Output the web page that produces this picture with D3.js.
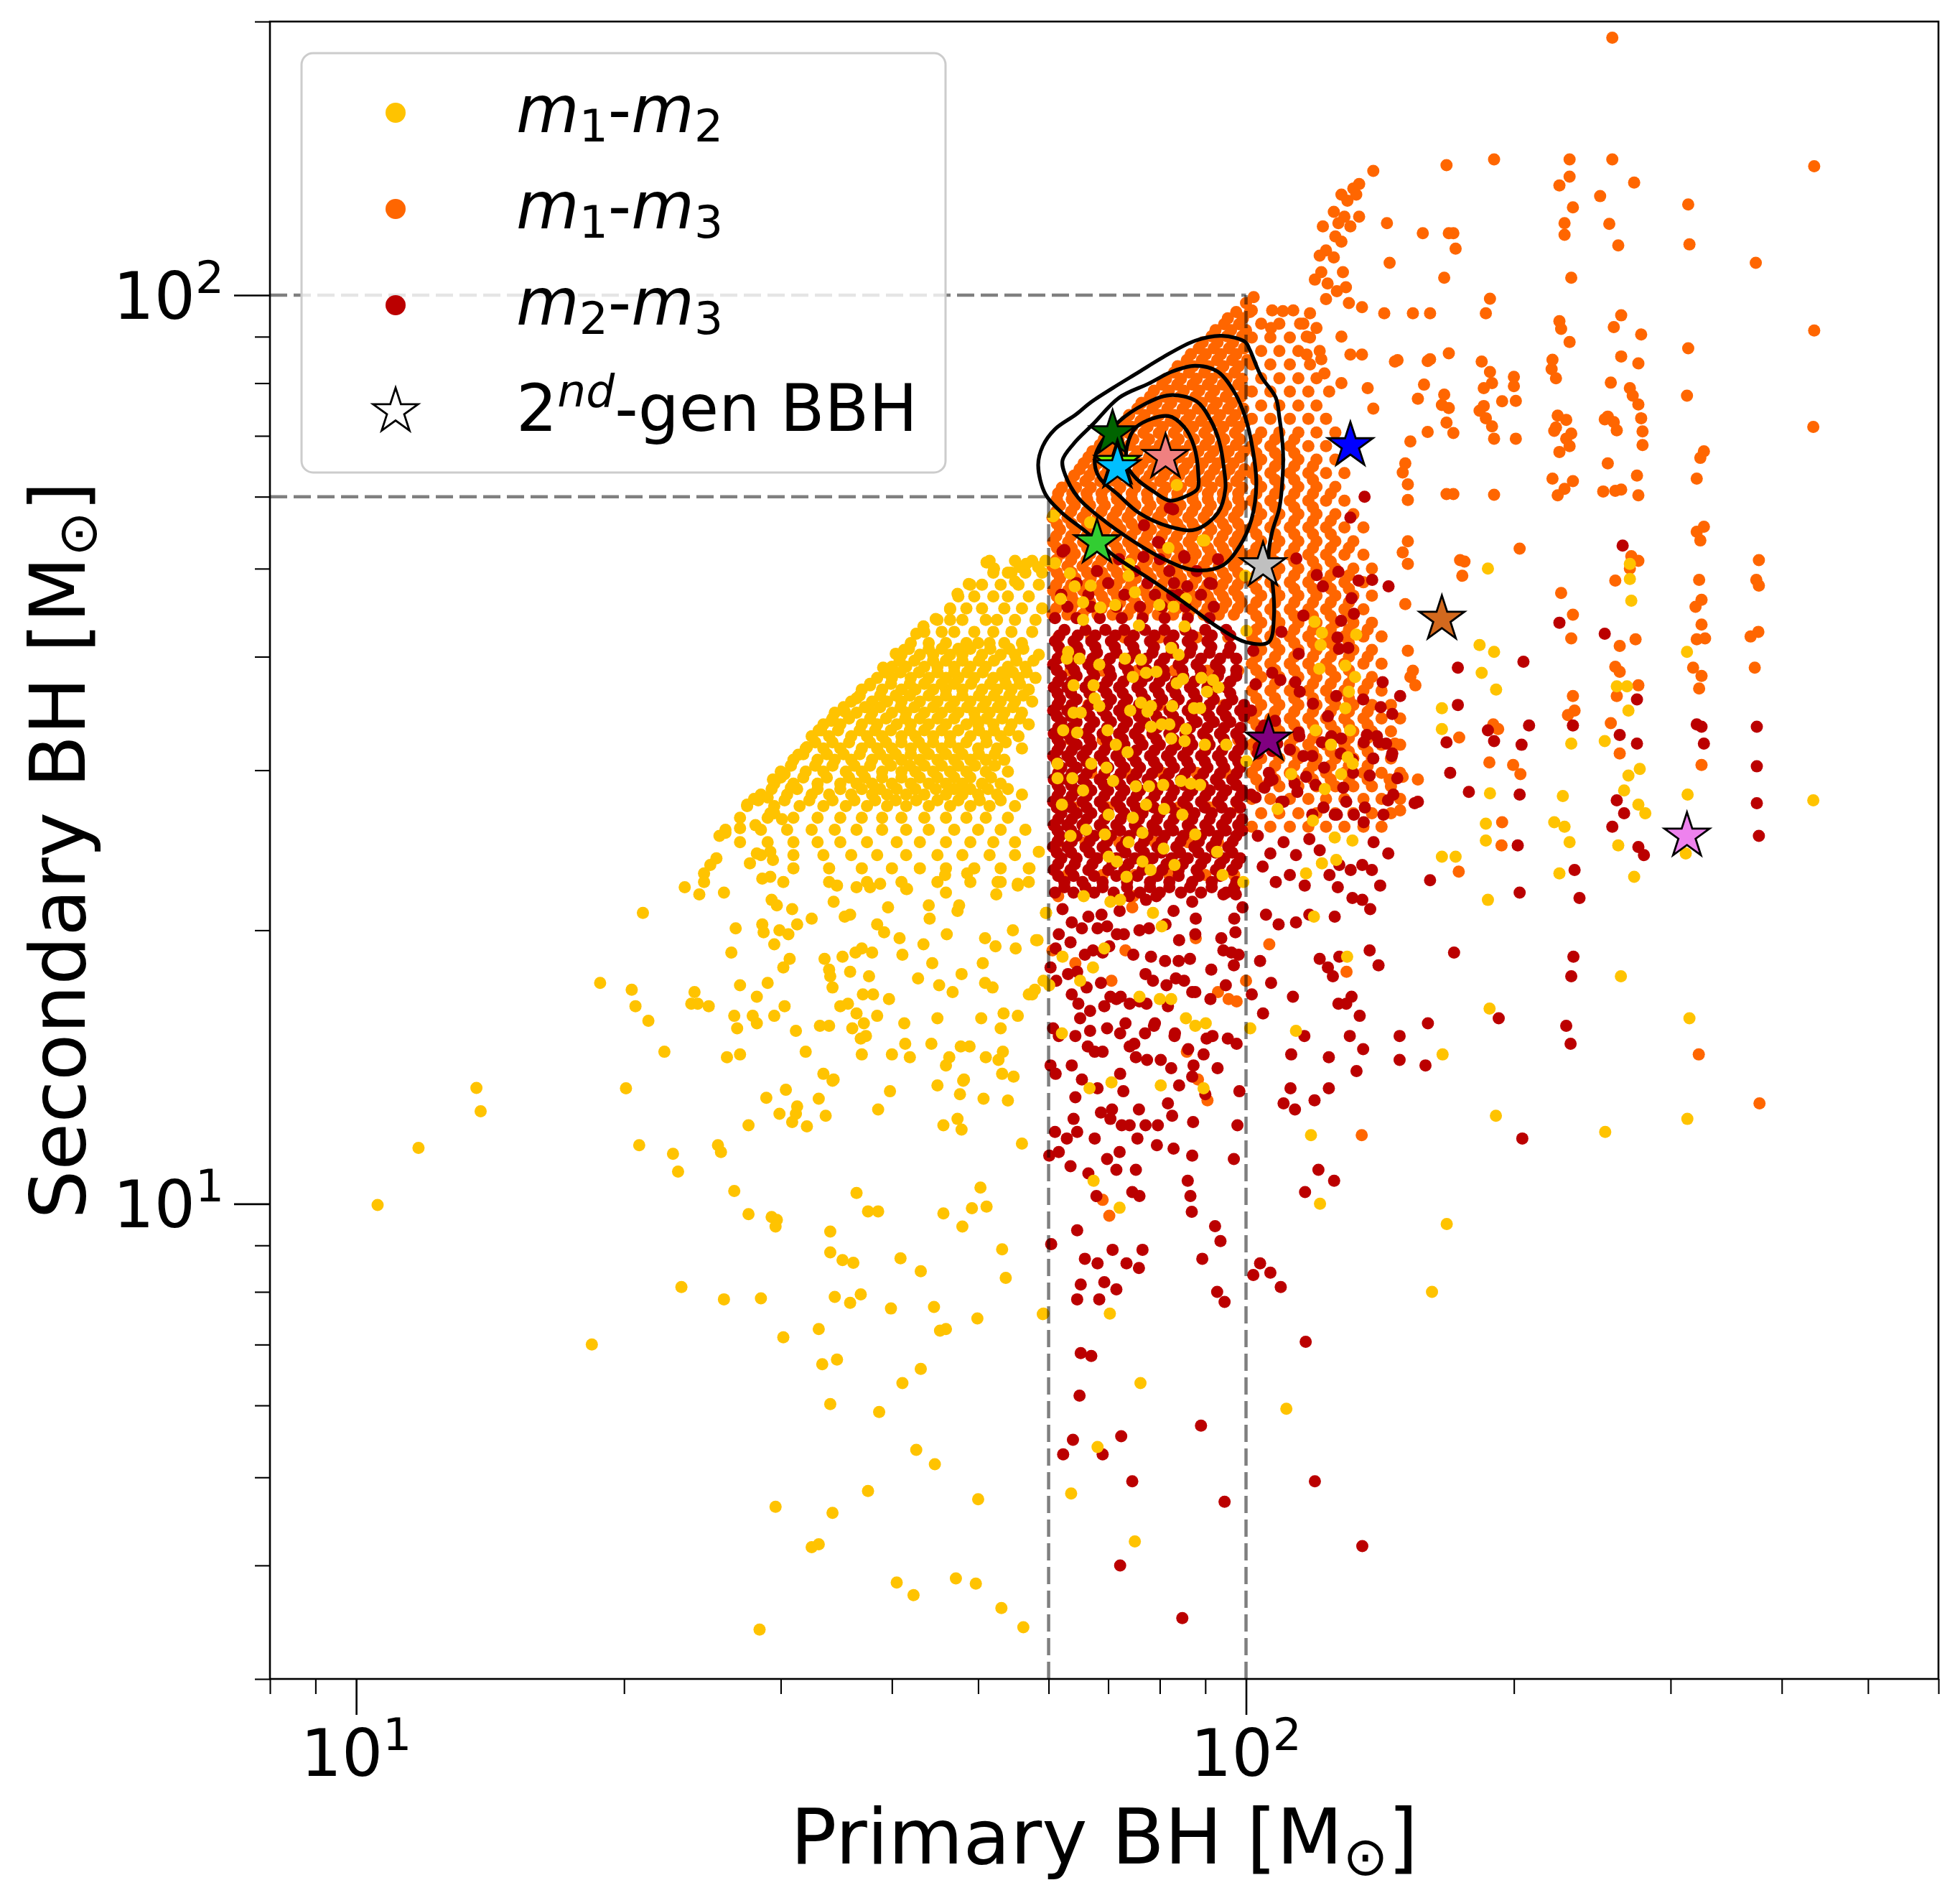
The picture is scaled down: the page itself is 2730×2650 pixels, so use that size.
<!DOCTYPE html>
<html><head><meta charset="utf-8">
<script src="https://cdn.jsdelivr.net/npm/d3@7"></script>
<style>body{margin:0;background:#fff}text{font-family:"DejaVu Sans",sans-serif}</style>
</head><body>
<svg id="chart" width="2730" height="2650"></svg>
<script>
// ---------- axes ----------
const xDomain = [8, 600];
const yDomain = [3, 200];
const xMajorTicks = [10, 100];
const xMinorTicks = [8, 9, 20, 30, 40, 50, 60, 70, 80, 90, 200, 300, 400, 500, 600];
const yMajorTicks = [10, 100];
const yMinorTicks = [3, 4, 5, 6, 7, 8, 9, 20, 30, 40, 50, 60, 70, 80, 90, 200];
const tickBase = {10: "10", 100: "10"};
const tickExp = {10: "1", 100: "2"};
const xLabel = "Primary BH [M";
const yLabel = "Secondary BH [M";
const labelSub = "\u2299";
const seriesColors = ["#ffc300", "#ff6600", "#bb0000"];

// mass-gap guide lines [x1,y1,x2,y2] in Msun
const guideLines = [[8,100,100,100],[100,3,100,100],[8,60,60,60],[60,3,60,60]];

// ---------- m1-m2 (yellow) ----------
// dense cloud rows: [m2, m1, m1, ...]
const m12CloudRows = [
[51,51.5,55,57.5,59.5],
[49.5,52,54.5,56.5,59],
[48,49,50.5,53,55.5,58.5],
[46.6,47.5,49.5,52,54,57],
[45.2,46.5,48.5,50.5,53.5,56,59],
[43.9,45,46.5,48,51,52.5,55,58],
[42.6,43.5,45.5,47,49.5,52,54.5,57.5],
[41.4,42,44,46,48.5,50,51.5,53.5,56],
[40.2,41,43,44.5,46.5,48,50.5,53,55,58.5],
[39,40,41.5,43.5,45,47,49,51,54,56.5],
[37.9,38.5,40,42,44,46,47.5,49.5,52,53.5,55.5,58],
[36.8,37,39,41,42.5,44.5,46,48,50.5,52.5,54.5,57],
[35.7,36,38,39.5,41,43,45,47,49,51,53,55,57.5],
[34.7,34.5,36.5,38,40,41.5,43.5,45.5,47.5,49.5,51.5,53.5,56],
[33.7,33.5,35,37,38.5,40.5,42,44,46,48.5,50,52,54.5,57],
[32.7,32.5,34,36,37.5,39,41,42.5,44.5,46.5,49,51,53,55.5],
[31.7,32,33.5,35,37,38.5,40,42,43.5,45.5,47.5,50,52.5,56],
[30.8,31,33,34.5,36,38,39.5,41,43,45,47,49,51,53.5],
[29.9,30,32,33.5,35.5,37,39,41,42.5,44.5,46.5,48.5,51,54],
[29,29.5,31,33,35,36.5,38,40,42,44,46,48,50.5,53],
[28.2,28.5,30.5,32.5,34,36,38,39.5,41.5,43.5,46,48,50,52.5,56],
[27.4,27.5,29.5,31.5,33.5,35.5,37.5,39.5,41.5,44,46.5,49,51.5,55],
[26.6,27,29,31,33,35,37,39,41,43.5,46,48.5,51,54],
[25.8,26,28.5,30.5,32.5,34.5,36.5,39,41.5,44,47,50,53,56.5],
[25,27,29,31,33,35,37.5,40.5,43,46,49,52,55],
[24.2,28.5,31,33.5,36,38.5,41.5,45,48,51.5,55],
[23.4,31,34,37,40,43,46,49.5,53,57],
[22.6,34,37.5,41,45,49,53,57]
];
const m12MidRows = [
[27.8,28.3,30.3,32.3,34.3,36.3,38.3,40.4,42.6,45,47.5,50.2,53],
[28.6,29.3,31.3,33,35,37,38.8,40.5,42.5,44.8,47,49,51.3,54],
[29.45,30,31.8,33.8,35.8,37.3,39,41,43,45,47,49,51.7],
[30.35,30.8,32.8,34.3,36.3,37.8,39.9,41.9,43.5,45.5,47.5,49.6,52.2],
[31.25,31.8,33.8,35.3,36.8,38.8,40.4,42,44,46,48,50.1,52.2],
[32.2,32.8,34.3,35.8,37.8,39.4,41,42.9,44.5,46.5,48.5,51.1,53.7],
[33.2,33.3,34.8,36.8,38.3,39.9,41.9,43.5,45.5,47.5,50.1,52.1,54.2],
[34.2,34.3,35.8,37.8,39.4,41.4,43,45,47,49.6,51.1,53.2,55.7],
[35.2,35.3,37.3,38.8,40.9,42.4,44.5,46.5,48.6,50.6,52.6,54.7],
[36.25,36.8,38.8,40.4,41.9,44,46,48,50.1,52.1,54.2,56.2],
[37.35,37.8,39.9,41.9,43.5,45.5,47,49.1,51.6,53.7,55.7],
[38.45,39.3,40.9,42.9,45,47,48.6,50.6,53.2,54.7,56.7],
[39.6,40.8,42.4,44.5,46,48,50.1,52.1,55.2,57.7],
[40.8,41.8,44,45.5,47.5,49,51.6,54.2,56.2]
];
const m12Points = [
[13.65,13.41],[13.8,12.64],[20.1,13.4],[11.75,11.52],[10.57,9.97],[20.8,11.6],[22.7,11.35],[23.0,10.85],[25.5,11.6],[25.7,11.4],[27.6,12.2],[28.9,13.08],[30.4,13.35],[29.9,12.56],[31.3,12.8],[31.2,12.56],[30.9,12.3],[32.1,12.17],[33.1,13.05],[33.7,12.5],[34.3,13.66],[38.6,12.7],[39.8,13.3],[45.0,13.5],[47.7,13.2],[48.1,13.66],[50.7,13.05],[54.0,12.99],[47.4,12.4],[45.7,12.2],[47.9,12.07],[56.0,11.65],[26.6,10.33],[27.6,9.74],[29.3,9.67],[29.7,9.6],[29.6,9.44],[36.5,10.28],[37.6,9.81],[38.6,9.81],[34.1,9.32],[34.1,8.84],[35.2,8.67],[36.2,8.61],[40.9,8.71],[43.1,8.43],[45.7,9.76],[49.2,9.89],[51.1,9.93],[50.3,10.42],[48.0,9.44],[53.2,8.91],[53.7,8.29],[59.1,7.56],[23.2,8.10],[25.9,7.85],[28.5,7.87],[34.5,7.90],[35.9,7.78],[36.9,7.95],[39.9,7.67],[44.6,7.70],[49.9,7.48],[45.3,7.25],[46.0,7.28],[33.1,7.28],[30.2,7.13],[18.4,7.00],[33.4,6.66],[34.7,6.74],[43.1,6.58],[41.1,6.35],[34.1,6.02],[38.7,5.90],[42.6,5.36],[44.7,5.17],[37.6,4.83],[50.0,4.73],[29.6,4.64],[34.3,4.57],[32.5,4.19],[33.1,4.22],[40.5,3.83],[42.3,3.71],[47.2,3.87],[49.7,3.82],[53.1,3.59],[56.2,3.42],[28.4,3.40],
[23.4,22.3],[24.3,21.9],[25.9,22.0],[21.0,20.9],[29.3,21.6],[29.7,21.3],[30.9,21.1],[32.5,20.6],[31.3,20.3],[26.7,20.1],[28.6,20.3],[28.7,19.9],[29.9,20.0],[30.6,19.8],[29.5,19.3],[26.4,18.9],[30.7,18.6],[30.2,18.2],[34.4,21.5],[35.4,20.7],[35.9,20.8],[39.6,21.2],[41.6,22.2],[44.0,21.3],[44.1,20.6],[46.0,22.0],[47.6,21.3],[47.4,21.0],[52.4,21.9],[52.6,22.6],[55.4,22.4],
[33.6,18.6],[35.2,18.7],[34.0,18.1],[34.1,17.8],[34.3,17.3],[35.9,18.0],[36.4,18.9],[37.0,19.1],[38.0,18.9],[37.1,17.0],[38.1,17.0],[39.7,16.8],[37.7,17.8],[38.5,20.3],[39.2,19.9],[40.8,19.6],[41.1,18.8],[43.4,19.3],[44.4,18.4],[46.1,19.8],[47.9,17.9],[45.2,17.4],[46.8,17.1],[42.8,17.7],[50.9,19.6],[52.3,19.2],[54.7,20.0],[55.1,19.1],[58.1,19.5],[59.6,20.9],[50.6,18.4],[50.9,17.5],[51.9,17.3],[57.0,17.0],[57.5,17.0],[60.1,17.4],[18.8,17.5],[20.4,17.2],[20.6,16.5],[21.3,15.9],[24.0,17.1],[23.8,16.6],[24.2,16.6],[24.9,16.5],[27.0,17.4],[29.0,17.5],[28.2,16.9],[30.3,16.5],[29.5,16.1],[26.6,16.1],[27.9,16.1],[28.2,15.8],[26.8,15.6],[31.2,15.5],[33.2,15.7],[34.0,15.7],[35.0,16.5],[35.7,16.6],[36.5,16.2],[37.2,15.8],[36.1,15.6],[36.9,15.2],[37.4,15.3],[38.5,16.1],[41.3,15.8],[45.0,16.0],[50.4,16.0],[53.4,16.2],[55.4,16.1],[53.0,15.6],[22.2,14.7],[26.1,14.5],[27.0,14.6],[32.0,14.7],[37.0,14.6],[40.0,14.6],[41.4,15.0],[41.9,14.5],[44.3,15.0],[47.8,14.9],[48.9,14.9],[53.3,14.7],[51.0,14.5],[52.7,14.4],[46.4,14.5],[46.0,14.2],[33.5,13.9],[34.4,13.7],[48.2,13.7],[53.2,13.9],[54.8,13.8],
[25.6,25.4],[26.0,25.6],[27.0,25.9],[28.1,26.1],[25.0,23.6],[25.4,24.0],[24.6,23.1],[24.6,22.6],[27.7,23.7],[28.2,24.3],[29.2,24.4],[29.4,23.9],[30.2,22.6],[28.6,22.8],[29.2,22.9],
[29.5,26.9],[30.1,26.5],[29.2,26.9],[27.5,27.5],[28.0,27.9],[29.0,28.0],[29.4,29.3],[30.3,29.7],[30.8,28.7],[31.4,31.2],[32.1,31.8],[33.1,33.2],[34.2,34.0],[35.4,34.8],[36.5,36.0],[37.8,37.2],[39.1,38.9],[40.4,40.3],[41.3,40.7],[42.6,42.4],[43.4,43.2],[44.8,44.0],[46.5,45.1],[47.4,46.9],[48.8,48.1],[51.1,50.8],[52.1,50.0],[54.0,49.5],[55.0,48.4],[55.7,50.2],[56.6,50.6],[58.4,50.2],
[34.7,22.4],[36.5,22.3],[37.8,22.3],[38.8,22.5],[41.5,22.2],[45.9,23.0],[48.6,23.1],[52.6,22.6],[55.4,22.5],[57.1,23.4],[58.5,24.4],
[59.2,7.57],[70.3,7.57],[76.1,6.35],[68.1,5.4],[63.6,4.8],[75.0,4.25],[111.0,5.95],[121.1,10.0],[118.3,11.9],[67.4,10.6],[72.1,9.9],
[59.6,20.9],[58.3,19.5],[59.2,17.6],[57.9,17.2],[62.2,18.7],[67.3,18.2],[65.1,17.6],[69.3,19.1],[75.9,16.9],[80.0,16.8],[82.4,16.8],[85.6,16.0],[87.7,15.7],[90.1,15.8],[62.1,15.4],[66.7,13.4],[70.6,13.6],[80.2,13.5],[89.6,13.4],[101.1,15.6],[113.8,15.5],[119.2,20.7],[129.9,18.7],
[63.5,25.4],[66.1,25.8],[69.4,25.5],[73.8,25.0],[76.5,25.6],[80.8,24.6],[87.7,25.5],[92.8,24.4],[70.1,24.1],[71.6,23.8],[76.5,23.8],[78.1,23.3],[83.1,23.6],[94.1,23.0],[73.4,22.9],[65.7,21.8],[70.4,21.5],[72.2,21.6],[78.6,20.9],[80.4,20.2],[99.3,22.6],[125.8,25.3],[131.7,25.1],[121.7,23.7],[116.8,23.1],[126.3,23.9],
[83.6,61.8],[89.8,53.7],[81.8,52.7],[66.9,56.2],[60.8,57.2],[73.9,50.6],[99.8,49.1],
[60.7,57.1],[66.8,56.2],[89.4,53.7],[73.8,49.1],[61,50.7],[63.4,49.4],[66.9,47.9],[64.2,47.8],[61.9,46.3],[65.6,45.9],[68.6,45.3],[71.3,45.6],[75.0,47.1],[79.9,45.6],[82.9,45.4],[85.6,46.3],[65.6,43.9],[75.8,43.3],[85.3,43.2],[100.1,42.7],[82.4,40.9],[84.0,40.2],[73.1,39.8],[76.2,39.7],[68.4,39.2],[65.0,39.8],[63.1,40.5],[62.9,39.8],[77.2,38.4],[79.3,38.5],[74.6,38.0],[83.6,37.4],[84.9,37.8],[89.1,37.9],[91.8,37.7],[93.1,37.0],[90.4,36.6],[64.0,37.2],[67.4,37.2],[67.6,36.0],[68.4,35.3],[74.1,34.9],[76.2,35.6],[78.2,35.3],[77.5,34.8],[82.6,35.3],[87.4,35.1],[88.8,35.1],[64.0,34.7],[65.2,34.7],[62.3,33.2],[64.6,33.0],[69.9,33.2],[80.4,33.7],[82.0,33.7],[78.2,33.5],[85.6,33.3],[71.4,32.0],[73.6,31.4],[82.4,32.5],[85.3,32.3],[89.9,32.0],[95.0,32.0],[61.4,30.5],[67.0,30.5],[69.7,30.2],[63.8,29.4],[65.6,28.5],[70.9,29.2],[75.2,28.8],[77.8,28.8],[80.7,28.9],[84.5,29.2],[86.7,29.0],[88.8,28.9],[61.4,29.4],[62.1,27.5],[70.1,26.8],[74.6,26.6],[77.2,27.5],[80.9,27.2],[84.8,26.8],
[119.4,43.7],[121.7,42.5],[121.3,41.2],[133.0,42.3],[129.3,39.1],[120.9,38.8],[132.6,38.0],[130.5,36.6],[129.3,35.1],[119.7,33.2],[130.9,33.2],[124.6,32.0],[130.1,31.0],[131.8,30.5],[112.4,29.7],[127.9,29.7],[122.6,28.6],[108.5,27.2],[100.1,30.7],[118.9,26.4],
[263.8,17.8],[187.8,16.4],[315,16.0],[166.3,14.6],[190.9,12.5],[253.3,12.0],[313.3,12.4],[168.1,9.5],[161.8,8.0],
[187,50.0],[270,50.6],[270,48.7],[271,46.1],[268,37.1],[269,34.9],[253,32.3],[269,29.6],[277,30.1],[266,28.5],[276,27.5],[281,26.9],[262,24.8],[273,22.9],[312,24.3],[313.5,28.2],[313,40.5],[434,27.8],[232,32.1],[227,28.1],[222,26.3],[228,26],[231,25],[225,23.1],[261,37.1],[183,41.2],[190,40.5],[184,38.4],[191,36.8],[166,35.1],[166,33.3],[166,24.1],[172,24.1],[186,26.2],[186,25.1],[187,21.6],[188,28.3]
];

// ---------- m1-m3 (orange) ----------
// dense rows: [m3, m1, m1, ...]
const m13Rows = [
[44.5,60.6,63,65.5,68.1,70.8,73.6,76.6,79.6,82.8,86.1,89.6,93.2,96.9],
[45.9,61.8,64.2,66.8,69.4,72.2,75.1,78.1,81.2,84.4,87.8,91.3,95,98.8],
[47.3,60.7,63.1,65.6,68.2,70.9,73.7,76.7,79.7,82.9,86.2,89.7,93.3,97],
[48.8,61.8,64.3,66.9,69.5,72.3,75.2,78.2,81.3,84.5,87.9,91.4,95.1,98.9],
[50.3,60.6,63,65.5,68.1,70.8,73.6,76.6,79.6,82.8,86.1,89.6,93.2,96.9],
[51.9,61.9,64.2,66.8,69.4,72.2,75.1,78.1,81.2,84.4,87.8,91.3,95,98.8],
[53.5,60.7,63.1,65.6,68.2,70.9,73.7,76.7,79.7,82.9,86.2,89.7,93.3,97],
[55.2,61.8,64.3,66.9,69.5,72.3,75.2,78.2,81.3,84.5,87.9,91.4,95.1,98.9],
[56.9,60.6,63,65.5,68.1,70.8,73.6,76.6,79.6,82.8,86.1,89.6,93.2,96.9],
[58.7,61.8,64.2,66.8,69.4,72.2,75.1,78.1,81.2,84.4,87.8,91.3,95,98.8],
[60.5,61.5,63.8,66.2,68.8,71.5,74.4,77.4,80.5,83.7,87.1,90.6,94.2,98],
[62.4,63.5,66,68.6,71.3,74.1,77.1,80.1,83.3,86.6,90.1,93.7,97.5],
[64.3,65,67.4,70,72.8,75.7,78.7,81.8,85.1,88.5,92.1,95.8,99.6],
[66.3,66.5,69.2,71.9,74.8,77.8,80.9,84.1,87.5,91,94.7,98.5],
[68.4,68.5,71.2,74,77,80,83.2,86.5,90,93.6,97.4],
[70.5,71,73.8,76.7,79.8,83,86.3,89.8,93.4,97.2],
[72.7,73.2,76.1,79.1,82.3,85.6,89,92.6,96.3,100],
[75,75.5,78.5,81.6,84.9,88.3,91.8,95.5,99.3],
[77.3,78,81.1,84.3,87.7,91.2,94.9,98.7],
[79.7,80.5,83.7,87.1,90.6,94.2,98],
[82.2,83,86.3,89.8,93.4,97.1],
[84.8,85.8,89.2,92.8,96.5,100.3],
[87.4,88.5,92,95.7,99.5],
[90.1,91.5,95.2,99],
[92.9,94.5,98.2],
[95.8,97.5,101],
[23,63,69,75,82,90,97],
[25,61.5,66,72,79,86,93],
[27.3,64,70,77,84,91,98],
[29.8,61.5,67,73.5,80.5,88,95],
[32.4,63.5,69,76,83,90.5,98],
[35.4,61.5,66.5,73,80,87,94.5],
[38.6,63.5,69,75.5,83,90.5,98],
[42,61.5,67,73,80,88,95.5],
[26,101.5,106.5,112,117.5,123,129,135.5,142],
[26.9,104,109,114.5,120,126,132,138.5,145.5],
[27.9,101.5,106.5,112,117.5,123,129,135.5,142,149],
[28.8,104,109,114.5,120,126,132,138.5,145.5],
[29.8,101.5,106.5,112,117.5,123,129,135.5,142,149],
[30.9,104,109,114.5,120,126,132,138.5,145.5],
[32,101.5,106.5,112,117.5,123,129,135.5,142,149],
[33.1,104,109,114.5,120,126,132,138.5,145.5],
[34.2,101.5,106.5,112,117.5,123,129,135.5,142,149],
[35.4,104,109,114.5,120,126,132,138.5,145.5],
[36.7,101.5,106.5,112,117.5,123,129,135.5,142],
[38,104,109,114.5,120,126,132,138.5],
[39.3,101.5,106.5,112,117.5,123,129,135.5,142],
[40.7,104,109,114.5,120,126,132,138.5],
[42.1,101.5,106.5,112,117.5,123,129,135.5,142],
[43.6,104,109,114.5,120,126,132,138.5],
[45.1,101.5,106.5,112,117.5,123,129,135.5],
[46.7,104,109,114.5,120,126,132,138.5],
[48.3,101.5,106.5,112,117.5,123,129,135.5],
[50,104,109,114.5,120,126,132,138.5],
[51.8,101.5,106.5,112,117.5,123,129,135.5],
[53.6,104,109,114.5,120,126,132],
[55.5,101.5,106.5,112,117.5,123,129,135.5],
[57.4,104,109,114.5,120,126,132],
[59.4,101.5,106.5,112,117.5,123,129],
[61.5,104,109,114.5,120,126],
[63.7,101.5,106.5,112,117.5,123,129],
[65.9,104,109,114.5,120,126],
[68.2,101.5,106.5,112,117.5,123],
[70.6,104,109,114.5,120,126],
[73.1,101.5,106.5,112,117.5,123],
[75.6,104,109,114.5,120],
[78.3,101.5,106.5,112,117.5,124],
[81,104,109,114.5,120],
[83.9,101.5,106.5,112,118],
[86.8,104,109,114.5,121],
[89.8,101.5,106.5,112,118],
[93,104,109,115],
[96.2,101.5,107,113]
];
const m13MidRows = [
[45.2,61.2,63.6,66.2,68.8,71.5,74.3,77.4,80.4,83.6,87,90.5,94.1,97.9],
[46.6,61.3,63.7,66.3,68.9,71.6,74.4,77.5,80.5,83.7,87.1,90.6,94.2,98],
[48.0,61.2,63.6,66.2,68.8,71.5,74.3,77.4,80.4,83.6,87,90.5,94.1,97.9],
[49.5,61.3,63.7,66.3,68.9,71.6,74.4,77.5,80.5,83.7,87.1,90.6,94.2,98],
[51.1,61.2,63.6,66.2,68.8,71.5,74.3,77.4,80.4,83.6,87,90.5,94.1,97.9],
[52.7,61.3,63.7,66.3,68.9,71.6,74.4,77.5,80.5,83.7,87.1,90.6,94.2,98],
[54.3,61.2,63.6,66.2,68.8,71.5,74.3,77.4,80.4,83.6,87,90.5,94.1,97.9],
[56.0,61.3,63.7,66.3,68.9,71.6,74.4,77.5,80.5,83.7,87.1,90.6,94.2,98],
[57.8,61.2,63.6,66.2,68.8,71.5,74.3,77.4,80.4,83.6,87,90.5,94.1,97.9],
[59.6,61.3,63.7,66.3,68.9,71.6,74.4,77.5,80.5,83.7,87.1,90.6,94.2,98],
[61.4,62.1,64.4,66.9,69.5,72.2,75.1,78.2,81.3,84.5,88,91.5,95.1,99],
[63.3,64.1,66.7,69.3,72,74.8,77.9,80.9,84.1,87.5,91,94.6,98.5],
[65.3,65.7,68.1,70.7,73.5,76.5,79.5,82.6,86,89.4,93,96.8],
[67.3,67.2,69.9,72.6,75.5,78.6,81.7,84.9,88.4,91.9,95.6,99.5],
[69.4,69.2,71.9,74.7,77.8,80.8,84,87.4,90.9,94.5,98.4],
[71.6,71.7,74.5,77.5,80.6,83.8,87.2,90.7,94.3,98.2],
[73.8,73.9,76.9,79.9,83.1,86.5,89.9,93.5,97.3],
[76.1,76.3,79.3,82.4,85.7,89.2,92.7,96.5],
[78.5,78.8,81.9,85.1,88.6,92.1,95.8,99.7],
[80.9,81.3,84.5,88,91.5,95.1,99],
[83.5,83.8,87.2,90.7,94.3,98.1],
[86.1,86.7,90.1,93.7,97.5],
[88.7,89.4,92.9,96.7],
[91.5,92.4,96.2,100],
[94.3,95.4,99.2],
[29.3,102.7,107.8,113.3,118.9,124.5,130.5,137],
[30.35,102.7,107.8,113.3,118.9,124.5,130.5,137],
[31.45,102.7,107.8,113.3,118.9,124.5,130.5,137],
[32.55,102.7,107.8,113.3,118.9,124.5,130.5,137],
[33.65,102.7,107.8,113.3,118.9,124.5,130.5,137],
[34.8,102.7,107.8,113.3,118.9,124.5,130.5,137],
[36,102.7,107.8,113.3,118.9,124.5,130.5],
[37.35,102.7,107.8,113.3,118.9,124.5,130.5,137],
[38.65,102.7,107.8,113.3,118.9,124.5,130.5],
[40,102.7,107.8,113.3,118.9,124.5,130.5,137],
[41.4,102.7,107.8,113.3,118.9,124.5,130.5],
[42.85,102.7,107.8,113.3,118.9,124.5,130.5,137],
[44.35,102.7,107.8,113.3,118.9,124.5,130.5],
[45.9,102.7,107.8,113.3,118.9,124.5,130.5],
[47.5,102.7,107.8,113.3,118.9,124.5,130.5],
[49.15,102.7,107.8,113.3,118.9,124.5,130.5],
[50.9,102.7,107.8,113.3,118.9,124.5],
[52.7,102.7,107.8,113.3,118.9,124.5,130.5],
[54.55,102.7,107.8,113.3,118.9,124.5],
[56.45,102.7,107.8,113.3,118.9,124.5],
[58.4,102.7,107.8,113.3,118.9],
[60.45,102.7,107.8,113.3,118.9,124.5],
[62.6,102.7,107.8,113.3,118.9],
[64.8,102.7,107.8,113.3,118.9],
[67,102.7,107.8,113.3],
[69.4,102.7,107.8,113.3]
];
const m13Points = [
[132,131],[133,129],[130,127],[134,132.5],[129,122],[127,120],[131,119],[126,116],[128,114.5],[123,112],[125.5,110],[121,110.5],[121.5,106],[123.5,103],[126.5,101],[129.5,102],[130.5,98],[135,97],[119.5,104],[128.5,106],[125.5,123.5],[134,122],[128,129],[144,120],[139,137],[145,108.5],[122,119],[123,99],[118,95.5],[116,93],[102,99.5],[100,98],[106.7,92],[110,96],[117,90],[120,92],[117,86],[121.5,85],[128,90],[131,86],[135,86],[122.5,82],[128,80],[137,79],[139,75],[147,84.5],
[168,139],[190,141],[231,141],[231,135],[225,132],[258,141],[273,133],[250,128.5],[233,124.9],[256,119.8],[262,113.4],[228,120],[228,116.5],[314,125.8],[315,113.7],[435,138.6],[435,91.4],[434,71.6],[374,108.5],[314,87.4],[313,77.5],[232,104.5],[264,95],[259,92.2],[278,90.5],[264,85.6],[276,84.1],[257,80.1],[270,79.0],[272,77.5],[276,75.8],[255,73.5],[259,72.5],[278,73.2],[253,73],[261,71.0],[279,70.8],[279,68.4],[275,63.3],[255,65.3],[260,60.9],[252,60.8],[264,61.1],[276,60.2],[221,62.8],[228,61.2],[233,62.4],[224,60.2],[271,51.6],[276,51.0],[260,48.5],[270,50.0],[226,47.0],[233,44.5],[232,41.9],[263,41.1],[274,41.8],[260,39.0],[263,38.5],[276,37.2],[261,36.2],[233,36.2],[234,34.9],[230,34.5],[257,33.8],[263,31.3],[220.5,82.9],[223,81],[224,73.7],[223,71.5],[229,72.9],[232,70.4],[222,70.9],[229,69.5],[225,67.2],[231,68.2],[225,93.6],[226,91.8],[231,88.8],[221,84.9],
[188,99.1],[186,95.5],[184,84.5],[188,82.3],[200,81.3],[189,80.0],[185,79.0],[200,79.4],[194,76.4],[201,76.5],[185,75.5],[183,74.6],[186,73.2],[189,71.7],[190,69.5],[201,69.5],[190,60.3],[203,52.6],
[167,104.5],[169,117],[172,112.5],[171,117],[158,117],[169,86.3],[160,84.6],[161,85],[158.5,79.7],[156,76.9],[167,77.7],[166,75.7],[169,75.1],[171,70.5],[168,72.4],[160,70.7],[153,69.0],[168,60.4],[171,60.4],[174,51.1],[176,50.9],[175,49.1],[154,38.6],
[143,95.5],[154,95.5],[161,95.5],[148,84.8],[151,65.3],[152,61.9],[150,63.8],[152,59.5],[152,53.6],[150,52.1],[152,50.6],[151,45.7],[152,40.6],[153,38.0],[155,37.2],
[324,66.2],[327,67.3],[321,62.8],[321,54.9],[327,55.6],[324,53.7],[323,48.6],[325,46.2],[320,45.4],[325,43.4],[321,41.8],[328,41.9],[318,38.9],[325,38.1],[323,36.9],[325,30.4],
[377,51.1],[374.5,48.6],[377,47.9],[369,42.1],[376.5,42.6],[373,38.9],
[258,192],[322.7,14.6],[377.6,12.9],[134.9,11.9],[173.4,23.2],[129.7,18.0],[106.2,19.3],[100,17.6],
[145,29.3],[147,32.1],[150,29.5],[149,27.1],[156,29.3],[173.6,32.6],[187.7,30.6],[189.6,33.7],[192,33.3],[199.6,30.4],[203.4,29.7],[194,26.3],[193.7,24.8],
[61.5,21.8],[74.7,21.8],[74.5,21.2],[60.6,19.0],[73.2,19.0],[64.3,18.4],[70.6,17.6],[87.8,19.6],[93.0,17.1],[95.6,16.8],[97.6,16.7],[85.8,14.7],[88.3,13.7],[90.5,13.0],[69.0,10.1],[70.2,9.7]
];

// ---------- m2-m3 (dark red) ----------
// dense rows: [m3, m2, m2, ...]
const m23Rows = [
[22.0,61,64,67.5,71,76,80,84.5,89,95],
[22.6,62.5,65.5,69,73.5,78,82,87,91.5,97.5],
[23.3,60.8,63.5,66.5,70,73,76.5,80.5,84,88,92.5,96.5],
[24.0,62,64.5,68,71.5,75,78.5,82.5,86,90,94.5,98.5],
[24.7,60.7,63,66,69,72.5,76,79.5,83.5,87.5,91.5,95.5],
[25.4,61.8,64.5,67.5,70.5,74,77.5,81,85,89,93,97.5],
[26.1,60.8,63,65.5,68.5,71.5,75,78.5,82,86,90,94,98],
[26.9,62,64.5,67,70,73,76.5,80,83.5,87.5,91.5,96],
[27.7,60.7,63,65.5,68.5,71.5,74.5,78,81.5,85,89,93,97.5],
[28.5,61.8,64.5,67,70,73,76,79.5,83,87,91,95,99],
[29.3,60.8,63,65.5,68.5,71.5,74.5,77.5,81,84.5,88.5,92.5,96.5],
[30.2,62,64.5,67,70,73,76,79.5,83,86.5,90.5,94.5,98.5],
[31.1,60.7,63,65.5,68.5,71.5,74.5,78,81.5,85,89,93,97],
[32.0,61.8,64.5,67,70,73,76.5,80,83.5,87,91,95,99],
[32.9,60.8,63,66,69,72,75,78.5,82,85.5,89.5,93.5,97.5],
[33.9,62,64.5,67.5,70.5,73.5,77,80.5,84,88,92,96],
[34.9,60.7,63,66,69,72,75,78.5,82,86,90,94,98.5],
[35.9,61.8,64.5,67.5,70.5,73.5,77,80.5,84,88,92,96.5],
[37.0,60.8,63,66,69,72,75.5,79,82.5,86.5,90.5,95],
[38.1,62,64.5,67.5,70.5,74,77.5,81,85,89,93,97.5],
[39.2,60.7,63.5,66.5,69.5,73,76.5,80,84,88,92.5],
[40.4,62,65,68,71.5,75,78.5,82.5,86.5,91,95.5],
[41.6,61,64,67,70.5,74,78,82,86,90.5],
[42.8,62.5,66,69.5,73,77,81,85.5,90,95],
[44.1,61,64.5,68.5,72.5,76.5,81,86,91],
[45.4,63,67,71.5,76,80.5,85.5,92],
[46.8,62,66.5,73,79,84,89],
[48.2,64.5,70,77.5,83,91],
[49.7,68,75,82,88],
[51.2,72,80,93]
];
const m23MidRows = [
[22.3,62.5,66,69,73.5,78,82,86.5,91.5,97],
[22.95,61.5,64,67.5,71.5,75.5,79.5,84,88.5,93.5],
[23.65,61.5,64.2,67.2,70.8,73.8,77.3,81.4,84.9,89,93.5,97.6],
[24.35,61.3,63.6,66.7,69.7,73.2,76.8,80.3,84.3,88.4,92.4,96.5],
[25.05,61.4,63.7,66.7,69.8,73.3,76.8,80.4,84.4,88.5,92.5,96.6],
[25.75,61.4,63.6,66.2,69.2,72.2,75.8,79.3,82.8,86.9,90.9,94.9,99],
[26.5,61.5,63.7,66.2,69.3,72.3,75.8,79.4,82.9,87,91,95,99],
[27.3,61.3,63.6,66.2,69.2,72.2,75.2,78.8,82.3,85.9,89.9,93.9,98.5],
[28.1,61.4,63.7,66.2,69.3,72.3,75.3,78.9,82.4,86,90,94,98.6],
[28.9,61.4,63.6,66.2,69.2,72.2,75.2,78.3,81.8,85.3,89.4,93.4,97.5],
[29.75,61.5,63.7,66.2,69.3,72.3,75.3,78.4,81.9,85.4,89.5,93.5,97.6],
[30.65,61.3,63.6,66.2,69.2,72.2,75.2,78.8,82.3,85.9,89.9,93.9,98],
[31.55,61.4,63.7,66.2,69.3,72.3,75.3,78.9,82.4,86,90,94,98],
[32.45,61.4,63.6,66.7,69.7,72.7,75.8,79.3,82.8,86.4,90.4,94.4,98.5],
[33.4,61.5,63.7,66.7,69.8,72.8,75.8,79.4,82.9,86.5,90.5,94.5,98.6],
[34.4,61.3,63.6,66.7,69.7,72.7,75.8,79.3,82.8,86.9,90.9,94.9,99.5],
[35.4,61.4,63.7,66.7,69.8,72.8,75.8,79.4,82.9,87,91,95,99.5],
[36.45,61.4,63.6,66.7,69.7,72.7,76.3,79.8,83.3,87.4,91.4,96],
[37.55,61.5,63.7,66.7,69.8,72.8,76.3,79.9,83.4,87.5,91.5,96],
[38.65,61.3,64.1,67.2,70.2,73.7,77.3,80.8,84.8,88.9,93.4,97.5],
[39.8,61.4,64.2,67.2,70.3,73.8,77.3,80.9,84.9,89,93.5,97.5],
[41.0,61.6,64.6,67.7,71.2,74.7,78.8,82.8,86.9,91.4,96],
[42.2,61.7,64.7,67.7,71.3,74.8,78.9,82.9,87,91.5,96]
];
const m23Points = [
[62.2,21.1],[63.7,20.4],[66.5,20.7],[68.8,20.8],[72.1,21.0],[73.9,21.8],[77.2,21.6],[79.3,21.8],[82.9,21.0],[87.0,21.5],[87.8,20.6],[94.3,21.9],[97.4,21.9],[97.0,20.6],[99.1,21.2],[61.6,19.8],[63.5,19.4],[65.4,20.1],[68.1,20.1],[69.8,20.2],[71.6,19.8],[72.9,19.8],[75.9,20.0],[77.8,20.1],[81.2,20.3],[84.1,19.5],[87.7,19.8],[93.8,19.6],[97.3,19.9],[61.1,19.1],[65.9,18.8],[67.3,19.0],[69.0,18.9],[70.2,19.2],[74.7,18.8],[78.2,18.7],[81.1,18.5],[84.0,18.5],[86.5,18.6],[91.4,18.1],[94.3,19.0],[96.3,18.9],[98.1,18.8],
[60.3,18.2],[61.2,17.6],[63.1,17.9],[64.6,18.0],[66.2,17.3],[68.7,17.5],[70.4,16.9],[72.3,16.9],[74.0,16.6],[77.1,17.9],[78.6,17.6],[81.4,17.4],[83.4,17.7],[85.2,17.6],[87.0,17.1],[91.2,16.8],[94.9,17.4],[96.9,18.3],[64.8,16.6],[65.1,16.0],[66.8,16.3],[69.3,16.5],[71.5,16.8],[75.9,16.7],[77.3,16.6],[79.0,15.8],[81.7,16.5],[83.2,15.4],[87.7,17.1],[90.3,15.2],[95.4,15.2],[97.6,15.0],[63.7,17.0],
[60.7,15.6],[61.6,15.3],[64.3,15.3],[66.8,15.5],[69.8,15.6],[72.2,15.4],[73.2,15.8],[74.9,15.0],[77.0,15.4],[78.8,15.7],[83.1,15.3],[86.1,14.8],[87.3,14.2],[89.6,14.6],[91.7,15.3],[92.9,14.1],[60.3,14.2],[61.1,13.9],[63.7,14.2],[65.4,13.7],[66.4,14.9],[67.6,14.7],[69.0,14.7],[72.2,13.9],[74.0,14.9],[75.2,14.5],[77.4,14.4],[80.2,14.4],[82.4,14.1],[84.1,13.5],[87.0,13.8],[90.0,13.2],[98.3,13.3],
[64.3,13.1],[68.1,13.4],[70.7,12.7],[72.8,13.3],[68.7,12.6],[70.4,12.4],[72.5,12.2],[74.0,12.2],[75.8,12.7],[77.1,12.2],[79.6,12.2],[81.7,12.9],[82.6,12.5],[87.2,12.3],[97.8,12.2],[64.0,12.4],[64.6,12.0],[61.0,12.0],[62.9,11.8],[67.6,11.8],[72.1,11.4],[75.5,11.8],[79.4,11.6],[82.9,11.5],[60.1,11.3],[61.6,11.4],[69.8,11.2],[87.0,11.3],[96.9,11.2],
[63.5,11.0],[66.5,10.8],[71.5,10.9],[75.2,10.9],[67.9,10.2],[74.5,10.3],[75.9,10.2],[86.0,10.6],[86.6,10.2],[86.9,9.8],
[60.4,9.03],[64.6,9.35],[65.9,8.7],[68.1,8.6],[70.8,8.9],[73.4,8.6],[75.8,8.5],[76.5,8.9],[65.2,8.15],[64.6,7.85],[69.3,8.2],[68.4,7.85],[71.5,8.05],[89.3,8.7],[92.3,9.45],[93.6,9.1],[92.8,8.0],[94.6,7.8],[65.2,6.85],[67.0,6.8],[65.0,6.15],[63.9,5.5],[62.3,5.3],[69.0,5.3],[72.4,5.55],[74.5,4.95],[89.0,5.7],[94.6,4.7],[72.2,4.0],[84.8,3.5],
[101.3,28.2],[104.9,28.7],[107.1,29.3],[110.2,27.7],[113.4,29.0],[116.8,29.5],[118.7,26.8],[122.2,27.3],[125.8,26.8],[129.6,27.7],[132.2,26.8],[135.6,26.3],[139.1,25.0],[142.7,26.8],[144.5,24.3],[146.4,28.2],[103.1,25.4],[106.5,24.3],[110.2,25.0],[113.8,24.2],[117.8,25.2],[121.0,24.5],[124.1,23.0],[127.3,23.6],[131.1,23.3],[135.1,23.6],[138.5,23.3],[141.5,22.4],[104.4,23.5],[108.0,22.6],[112.0,23.0],[116.4,22.4],[126.8,22.3],[131.7,21.7],[103.1,31.3],[106.1,29.8],[108.4,32.1],[112.0,31.6],[114.8,32.7],[118.7,31.1],[121.7,32.2],[124.7,32.7],[127.8,31.3],[131.7,30.8],[135.6,32.2],[140.3,32.7],[143.7,32.1],[145.8,31.1],[104.0,33.2],[137.7,29.6],
[105.3,20.8],[108.8,20.3],[113.8,20.4],[117.8,20.8],[121.0,18.6],[123.6,18.2],[125.8,20.7],[127.3,18.7],[125.2,17.8],[137.7,19.0],[140.9,18.3],[135.1,21.6],[137.9,21.1],[103.7,18.5],[106.7,17.5],[101.5,17.0],[104.5,16.2],[112.9,16.9],[116.3,15.3],[112.4,14.6],[123.9,14.5],[123.9,13.4],[127.0,16.6],[129.6,16.6],[131.4,16.9],[134.2,16.1],[130.8,15.3],[135.4,14.8],[133.1,14.0],[112.2,13.4],[110.2,12.9],[113.5,12.7],[119.4,13.0],[101.9,8.35],[103.7,8.6],[106.5,8.4],[109.4,8.1],[116.7,7.05],[119.5,4.95],[135.1,4.2],[116.5,10.3],[120.6,10.9],[125.6,10.6],
[135.9,60.0],[131.0,56.9],[113.9,51.3],[120.1,49.2],[127.0,49.6],[122.0,47.8],[133.8,48.5],[138.6,48.6],[144.6,47.8],[131.4,46.4],[132.2,44.6],[116.0,44.4],[127.9,43.8],[126.7,42.0],[109.6,42.6],[114.6,40.3],[127.2,40.8],[130.3,40.9],[101.9,40.6],[107.0,38.4],[109.3,37.7],[102.5,37.3],[113.6,37.5],[114.9,36.6],[118.9,35.5],[126.3,36.2],[135.4,35.9],[141.7,35.2],[146.0,34.6],[149.0,36.2],[142.4,37.5],[101.3,34.9],[104.8,33.6],[107.8,34.0],[114.6,33.0],[123.6,34.4],[127.9,32.5],[136.7,32.8],[139.0,30.9],[146.0,31.3],[103.3,31.8],[107.0,31.5],[116.0,31.1],[122.4,30.2],[131.9,29.8],[102.5,28.0],[106.3,29.2],[109.6,27.7],[114.2,28.4],[119.7,28.9],[128.6,28.7],[136.0,27.3],[144.4,27.8],[154.7,27.6],[126.5,26.8],[147.9,29.4],
[82.8,58.1],[76.8,55.8],[62.2,52.2],[79.6,53.5],[76.7,51.5],[85.3,51.4],[91.5,48.1],[85.9,47.8],[82.6,46.7],[82.1,58.3],[79.9,53.4],[85.2,51.6],[62.5,52.4],
[171.3,18.9],[233.3,18.7],[232.0,17.8],[192.3,16.0],[160.1,15.8],[229.0,15.7],[231.6,15.0],[159.1,14.2],[148.8,15.3],[148.8,14.4],[204.4,11.8],
[265,53.0],[225,43.6],[253,42.4],[205,39.5],[173,38.9],[173,35.4],[168,32.2],[169.6,29.8],[178,28.4],[187,33.2],[190,32.3],[208,33.6],[204,32],[203,28.2],[202,24.8],[203,22.0],[233,33.6],[234,23.3],[237,21.7],[263,32.8],[275,35.9],[275,32.1],[261,27.8],[266,26.9],[258,26.0],[276,24.7],[280,24.2],[321,33.7],[325,33.5],[327,32.1],[375,33.5],[375,30.3],[375,27.6],[377,25.4],[161,22.7],[156,27.7],[141,32.2]
];

// ---------- 2nd-generation BBH stars ----------
const starMasses = [[70.8,70.4],[71.7,65.3],[71.7,64.6],[81.2,66.3],[68.0,53.4],[104.5,50.4],[131,68.3],[166,44.0],[106,32.4],[313,25.4]];
const starColors = ["#006400","#7fff00","#00bfff","#f08080","#32cd32","#c0c0c0","#0000ff","#d2691e","#800080","#ee82ee"];

// ---------- credible-region contours (inner to outer) ----------
const contour1 = [[81.8,73.6],[85.2,71.6],[87.4,68.2],[88.4,63.4],[88.2,61.2],[85.7,60.1],[82.1,59.4],[78.7,60.8],[75.3,62.8],[73.5,65.0],[73.5,68.2],[75.3,71.6]];
const contour2 = [[82.1,77.6],[88.0,76.4],[91.2,72.9],[93.3,69.0],[94.5,64.2],[94.8,61.2],[93.0,57.6],[87.7,55.2],[82.1,55.6],[75.8,57.6],[71.7,60.4],[68.4,63.0],[67.6,65.8],[68.4,68.2],[72.0,72.6],[76.8,75.8]];
const contour3 = [[87.7,83.6],[92.9,82.4],[97.1,78.1],[99.8,73.4],[101.7,67.8],[102.7,62.0],[101.4,56.6],[98.3,52.9],[94.1,50.4],[87.7,49.8],[81.6,51.0],[74.9,53.5],[68.4,57.0],[64.8,59.8],[62.6,63.5],[62.2,65.8],[64.0,68.6],[67.3,72.1],[72.0,77.1],[77.7,79.9],[82.6,82.4]];
const contour4 = [[93.9,90.2],[99.8,88.8],[101,87.0],[104,81.4],[108,77.1],[109,73.4],[110,67.8],[110,63.9],[109,58.3],[107,54.9],[106,51.6],[107,48.6],[107.5,44.4],[106,41.5],[100,41.5],[93,43.1],[85.7,45.7],[78.2,48.6],[71.2,51.6],[66.1,54.9],[62.1,57.6],[59.5,60.4],[58.4,65.0],[59.1,68.2],[61.0,71.2],[64.4,73.9],[66.9,76.2],[70.8,79.0],[75.8,82.3],[80.6,85.4],[87.7,89.1]];

const legendLabels = [["m","1","m","2"],["m","1","m","3"],["m","2","m","3"]];

// ================= drawing =================
const svg = d3.select("#chart");
const L = 376, R = 2700, T = 30, B = 2338;
const x = d3.scaleLog().domain(xDomain).range([L, R]);
const y = d3.scaleLog().domain(yDomain).range([B, T]);

svg.append("rect").attr("width", 2730).attr("height", 2650).attr("fill", "#fff");

function rowsToPoints(rows) {
  const out = [];
  rows.forEach(r => { for (let i = 1; i < r.length; i++) out.push([r[i], r[0]]); });
  return out;
}
const yellowAll = rowsToPoints(m12CloudRows).concat(rowsToPoints(m12MidRows), m12Points);
const orangeAll = rowsToPoints(m13Rows).concat(rowsToPoints(m13MidRows), m13Points);
const redAll = rowsToPoints(m23Rows).concat(rowsToPoints(m23MidRows), m23Points);

const clipId = "plotclip";
svg.append("clipPath").attr("id", clipId).append("rect")
  .attr("x", L).attr("y", T).attr("width", R - L).attr("height", B - T);
const plot = svg.append("g").attr("clip-path", `url(#${clipId})`);

const rDot = 8.5;
[[orangeAll, seriesColors[1]], [redAll, seriesColors[2]], [yellowAll, seriesColors[0]]].forEach(([pts, col]) => {
  plot.append("g").selectAll("circle").data(pts).join("circle")
    .attr("cx", d => x(d[0])).attr("cy", d => y(d[1])).attr("r", rDot).attr("fill", col);
});

// guide lines
plot.append("g").selectAll("line").data(guideLines).join("line")
  .attr("x1", d => x(d[0])).attr("y1", d => y(d[1]))
  .attr("x2", d => x(d[2])).attr("y2", d => y(d[3]))
  .attr("stroke", "#000").attr("stroke-opacity", 0.5)
  .attr("stroke-width", 4.5).attr("stroke-dasharray", "24,9");

// contours
const cLine = d3.line().x(d => x(d[0])).y(d => y(d[1])).curve(d3.curveCatmullRomClosed.alpha(0.5));
plot.append("g").selectAll("path").data([contour1, contour2, contour3, contour4]).join("path")
  .attr("d", cLine).attr("fill", "none").attr("stroke", "#000").attr("stroke-width", 5.2)
  .attr("stroke-linejoin", "round");

// stars
function starPath(Ro) {
  const ri = Ro * 0.381966, pts = [];
  for (let i = 0; i < 10; i++) {
    const a = -Math.PI / 2 + i * Math.PI / 5, rr = i % 2 ? ri : Ro;
    pts.push([rr * Math.cos(a), rr * Math.sin(a)]);
  }
  return "M" + pts.map(p => p[0].toFixed(2) + "," + p[1].toFixed(2)).join("L") + "Z";
}
const sp = starPath(33);
plot.append("g").selectAll("path").data(starMasses).join("path")
  .attr("d", sp).attr("transform", d => `translate(${x(d[0])},${y(d[1])})`)
  .attr("fill", (d, i) => starColors[i]).attr("stroke", "#000").attr("stroke-width", 2.8)
  .attr("stroke-linejoin", "miter");

// spines
svg.append("rect").attr("x", L).attr("y", T).attr("width", R - L).attr("height", B - T)
  .attr("fill", "none").attr("stroke", "#000").attr("stroke-width", 2.6);

// ticks
const gx = svg.append("g").attr("transform", `translate(0,${B})`);
gx.append("g").call(d3.axisBottom(x).tickValues(xMinorTicks).tickSize(21).tickFormat(""))
  .call(g => g.select(".domain").remove()).selectAll("line").attr("stroke-width", 2.1);
gx.append("g").call(d3.axisBottom(x).tickValues(xMajorTicks).tickSize(50).tickFormat(""))
  .call(g => g.select(".domain").remove()).selectAll("line").attr("stroke-width", 2.6);
const gy = svg.append("g").attr("transform", `translate(${L},0)`);
gy.append("g").call(d3.axisLeft(y).tickValues(yMinorTicks).tickSize(21).tickFormat(""))
  .call(g => g.select(".domain").remove()).selectAll("line").attr("stroke-width", 2.1);
gy.append("g").call(d3.axisLeft(y).tickValues(yMajorTicks).tickSize(50).tickFormat(""))
  .call(g => g.select(".domain").remove()).selectAll("line").attr("stroke-width", 2.6);

function sciLabel(px, py, v, anchor) {
  const t = svg.append("text").attr("x", px).attr("y", py).attr("text-anchor", anchor)
    .attr("font-size", 90).attr("fill", "#000");
  t.append("tspan").text(tickBase[v]);
  t.append("tspan").attr("font-size", 63).attr("dy", -36).text(tickExp[v]);
}
xMajorTicks.forEach(v => sciLabel(x(v), 2473, v, "middle"));
yMajorTicks.forEach(v => sciLabel(312, y(v) + 33, v, "end"));

// axis titles
const xt = svg.append("text").attr("x", (L + R) / 2).attr("y", 2595).attr("text-anchor", "middle")
  .attr("font-size", 107);
xt.append("tspan").text(xLabel);
xt.append("tspan").attr("font-size", 75).attr("dy", 16).text(labelSub);
xt.append("tspan").attr("dy", -16).text("]");
const yt = svg.append("text").attr("transform", `translate(118,${(T + B) / 2}) rotate(-90)`)
  .attr("text-anchor", "middle").attr("font-size", 107);
yt.append("tspan").text(yLabel);
yt.append("tspan").attr("font-size", 75).attr("dy", 16).text(labelSub);
yt.append("tspan").attr("dy", -16).text("]");

// legend
const lg = svg.append("g");
lg.append("rect").attr("x", 420).attr("y", 74).attr("width", 897).attr("height", 584).attr("rx", 16)
  .attr("fill", "#fff").attr("fill-opacity", 0.8).attr("stroke", "#cccccc").attr("stroke-width", 3);
const rowY = [157, 291, 425, 573];
legendLabels.forEach((lab, i) => {
  lg.append("circle").attr("cx", 551).attr("cy", rowY[i]).attr("r", 14).attr("fill", seriesColors[i]);
  const t = lg.append("text").attr("x", 719).attr("y", rowY[i] + 27).attr("font-size", 90);
  t.append("tspan").attr("font-style", "italic").text(lab[0]);
  t.append("tspan").attr("font-size", 63).attr("dy", 13).text(lab[1]);
  t.append("tspan").attr("dy", -13).text("-");
  t.append("tspan").attr("font-style", "italic").text(lab[2]);
  t.append("tspan").attr("font-size", 63).attr("dy", 13).text(lab[3]);
});
lg.append("path").attr("d", sp).attr("transform", `translate(551,${rowY[3]})`)
  .attr("fill", "#fff").attr("stroke", "#000").attr("stroke-width", 2.8);
const st = lg.append("text").attr("x", 719).attr("y", rowY[3] + 27).attr("font-size", 90);
st.append("tspan").text("2");
st.append("tspan").attr("font-size", 63).attr("font-style", "italic").attr("dy", -34).text("nd");
st.append("tspan").attr("dy", 34).text("-gen BBH");
</script>
</body></html>
